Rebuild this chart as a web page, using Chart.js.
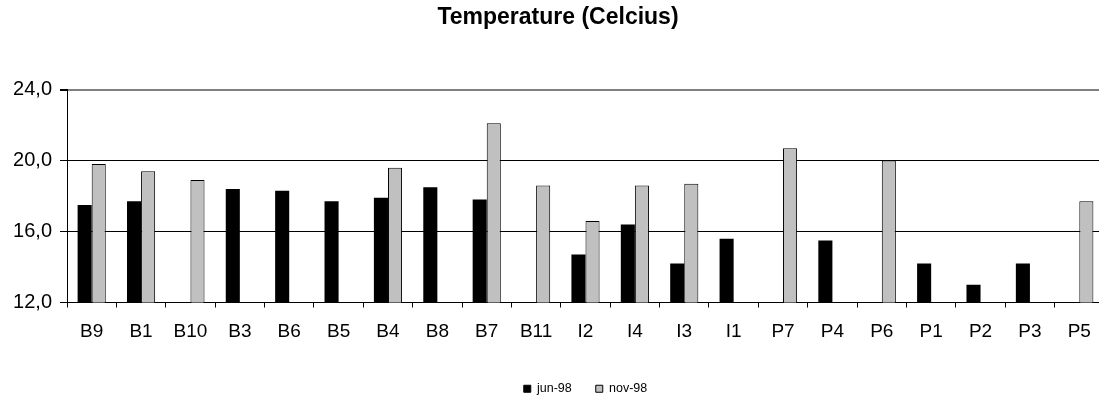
<!DOCTYPE html>
<html>
<head>
<meta charset="utf-8">
<script src="https://cdn.jsdelivr.net/npm/chart.js@4/dist/chart.umd.min.js"></script>
<style>
  html, body { margin: 0; padding: 0; overflow: hidden; background: #fff; }
  #wrap { width: 1104px; height: 401px; }
</style>
</head>
<body>
<div id="wrap"><canvas id="barChart"></canvas></div>
<script>
const sites = ['B9', 'B1', 'B10', 'B3', 'B6', 'B5', 'B4', 'B8', 'B7', 'B11', 'I2', 'I4', 'I3', 'I1', 'P7', 'P4', 'P6', 'P1', 'P2', 'P3', 'P5'];
const jun98 = [17.5, 17.7, null, 18.4, 18.3, 17.7, 17.9, 18.5, 17.8, null, 14.7, 16.4, 14.2, 15.6, null, 15.5, null, 14.2, 13.0, 14.2, null];
const nov98 = [19.8, 19.4, 18.9, null, null, null, 19.6, null, 22.1, 18.6, 16.6, 18.6, 18.7, null, 20.7, null, 20.0, null, null, null, 17.7];
const yTicks = [12, 16, 20, 24];

const font = "Arial, 'Liberation Sans', sans-serif";

new Chart(document.getElementById('barChart'), {
    type: 'bar',
    data: {
        labels: sites,
        datasets: [{
            label: 'jun-98',
            data: jun98,
            backgroundColor: '#000000',
            borderColor: '#000000',
            borderWidth: 0
        }, {
            label: 'nov-98',
            data: nov98,
            backgroundColor: '#c0c0c0',
            borderColor: '#000000',
            borderWidth: 1
        }]
    },
    options: {
        responsive: true,
        maintainAspectRatio: false,
        animation: false,
        // the plot runs a few px past the right edge of the window, like the original
        layout: { padding: { left: 12, right: 0, top: 0, bottom: -4 } },
        datasets: { bar: { barPercentage: 1, categoryPercentage: 0.57 } },
        scales: {
            x: {
                grid: { drawOnChartArea: false, drawTicks: true, tickLength: 5, color: '#000', offset: true },
                border: { color: '#000', width: 1 },
                ticks: { color: '#000', font: { family: font, size: 19 }, padding: 13, maxRotation: 0, autoSkip: false },
                afterFit: s => { s.height = 56; }
            },
            y: {
                min: 12,
                max: 24,
                afterBuildTicks: s => { s.ticks = yTicks.map(v => ({ value: v })); },
                grid: {
                    color: c => (c.tick && c.tick.value === 24 ? '#808080' : '#000'),
                    lineWidth: c => (c.tick && c.tick.value === 24 ? 2 : 1),
                    tickColor: '#000',
                    tickLength: 7
                },
                border: { color: '#000', width: 1 },
                ticks: {
                    color: '#000',
                    font: { family: font, size: 20 },
                    padding: 8,
                    callback: v => v.toFixed(1).replace('.', ',')
                },
                afterFit: s => { s.width = 55; }
            }
        },
        plugins: {
            title: {
                display: true,
                text: 'Temperature (Celcius)',
                color: '#000',
                font: { family: font, size: 23, weight: 'bold' },
                padding: { top: 4, bottom: 58 }
            },
            legend: {
                position: 'bottom',
                fullSize: false,
                labels: {
                    color: '#000',
                    font: { family: font, size: 12.5 },
                    boxWidth: 7,
                    boxHeight: 7,
                    padding: 24,
                    useBorderRadius: false,
                    generateLabels: chart => chart.data.datasets.map((d, i) => ({
                        text: d.label,
                        fillStyle: d.backgroundColor,
                        strokeStyle: '#000',
                        lineWidth: 1,
                        datasetIndex: i
                    }))
                }
            },
            tooltip: { enabled: false }
        }
    }
});
</script>
</body>
</html>
